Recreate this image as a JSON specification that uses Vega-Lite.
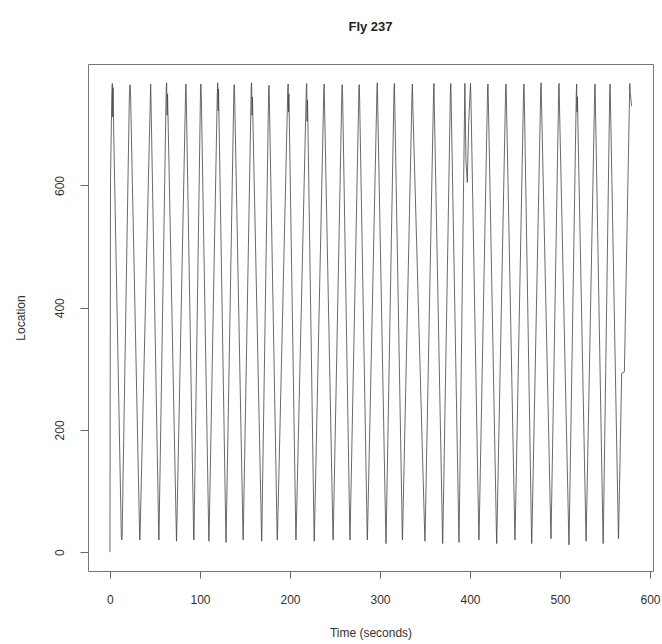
{
  "$schema": "https://vega.github.io/schema/vega-lite/v6.json",
  "width": 565,
  "height": 507,
  "autosize": {"type": "none"},
  "padding": {"left": 88, "top": 64, "right": 9, "bottom": 73},
  "background": "white",
  "title": {"text": "Fly 237", "fontSize": 13, "font": "Liberation Sans", "fontWeight": "bold", "color": "#222", "offset": 30, "anchor": "middle"},
  "config": {
    "view": {"stroke": "#777", "strokeWidth": 1},
    "axis": {"grid": false, "domain": false, "tickColor": "#666", "labelColor": "#333", "titleColor": "#333", "labelFont": "Liberation Sans", "titleFont": "Liberation Sans", "labelFontSize": 12, "titleFontSize": 12, "titleFontWeight": "normal"}
  },
  "data": {"values": [
    {"t": 0, "loc": 0}, {"t": 0.6, "loc": 610}, {"t": 2.0, "loc": 745}, {"t": 2.6, "loc": 767}, {"t": 3.1, "loc": 712}, {"t": 3.5, "loc": 760}, {"t": 4.0, "loc": 700},
    {"t": 12.6, "loc": 28}, {"t": 13, "loc": 20}, {"t": 13.5, "loc": 26},
    {"t": 21.6, "loc": 750}, {"t": 22.2, "loc": 765}, {"t": 22.8, "loc": 755},
    {"t": 33, "loc": 24}, {"t": 33.3, "loc": 20},
    {"t": 44.8, "loc": 740}, {"t": 45.2, "loc": 766}, {"t": 45.7, "loc": 730},
    {"t": 54.2, "loc": 26}, {"t": 54.4, "loc": 20},
    {"t": 62.5, "loc": 760}, {"t": 63, "loc": 768}, {"t": 63.5, "loc": 715}, {"t": 64, "loc": 750},
    {"t": 73.8, "loc": 24}, {"t": 74, "loc": 18},
    {"t": 84, "loc": 752}, {"t": 84.4, "loc": 766}, {"t": 84.9, "loc": 735},
    {"t": 93, "loc": 24}, {"t": 93.3, "loc": 20},
    {"t": 100.6, "loc": 755}, {"t": 101, "loc": 766}, {"t": 101.5, "loc": 745},
    {"t": 109.8, "loc": 22}, {"t": 110, "loc": 18},
    {"t": 119.2, "loc": 748}, {"t": 119.7, "loc": 768}, {"t": 120.2, "loc": 722}, {"t": 120.6, "loc": 758},
    {"t": 128.8, "loc": 22}, {"t": 129, "loc": 16},
    {"t": 137.6, "loc": 752}, {"t": 138, "loc": 765}, {"t": 138.5, "loc": 748},
    {"t": 147.8, "loc": 28}, {"t": 148, "loc": 20},
    {"t": 157, "loc": 765}, {"t": 157.4, "loc": 768}, {"t": 157.8, "loc": 715}, {"t": 158.3, "loc": 745},
    {"t": 168.4, "loc": 26}, {"t": 168.6, "loc": 18},
    {"t": 176.3, "loc": 756}, {"t": 176.7, "loc": 764}, {"t": 177.1, "loc": 740},
    {"t": 185.8, "loc": 22}, {"t": 186, "loc": 20},
    {"t": 197.6, "loc": 760}, {"t": 198, "loc": 766}, {"t": 198.4, "loc": 720}, {"t": 198.8, "loc": 750},
    {"t": 206.5, "loc": 24}, {"t": 206.7, "loc": 20},
    {"t": 218.2, "loc": 762}, {"t": 218.6, "loc": 767}, {"t": 219, "loc": 705}, {"t": 219.5, "loc": 740},
    {"t": 226.8, "loc": 24}, {"t": 227, "loc": 18},
    {"t": 237.6, "loc": 758}, {"t": 238, "loc": 766}, {"t": 238.4, "loc": 730},
    {"t": 247.8, "loc": 22}, {"t": 248, "loc": 20},
    {"t": 257.6, "loc": 752}, {"t": 258, "loc": 765}, {"t": 258.5, "loc": 745},
    {"t": 266.5, "loc": 26}, {"t": 266.7, "loc": 20},
    {"t": 276.6, "loc": 760}, {"t": 277, "loc": 765}, {"t": 277.4, "loc": 740},
    {"t": 285.8, "loc": 24}, {"t": 286, "loc": 20},
    {"t": 296.6, "loc": 755}, {"t": 297, "loc": 768}, {"t": 297.4, "loc": 738},
    {"t": 306.5, "loc": 22}, {"t": 306.7, "loc": 14},
    {"t": 315.6, "loc": 760}, {"t": 316, "loc": 767}, {"t": 316.4, "loc": 735},
    {"t": 324.8, "loc": 26}, {"t": 325, "loc": 20},
    {"t": 335.6, "loc": 752}, {"t": 336, "loc": 766}, {"t": 336.5, "loc": 730},
    {"t": 349.8, "loc": 22}, {"t": 350, "loc": 18},
    {"t": 359.6, "loc": 760}, {"t": 360, "loc": 767}, {"t": 360.4, "loc": 725},
    {"t": 369.5, "loc": 20}, {"t": 369.7, "loc": 14},
    {"t": 378.2, "loc": 752}, {"t": 378.6, "loc": 767}, {"t": 379, "loc": 745},
    {"t": 387.6, "loc": 24}, {"t": 387.8, "loc": 16},
    {"t": 394.3, "loc": 767}, {"t": 395.5, "loc": 640}, {"t": 397, "loc": 605}, {"t": 398.5, "loc": 700}, {"t": 400.5, "loc": 767}, {"t": 401, "loc": 745},
    {"t": 409.8, "loc": 22}, {"t": 410, "loc": 20},
    {"t": 419.6, "loc": 762}, {"t": 420, "loc": 766}, {"t": 420.4, "loc": 738},
    {"t": 429.5, "loc": 20}, {"t": 429.7, "loc": 14},
    {"t": 439.6, "loc": 758}, {"t": 440, "loc": 766}, {"t": 440.4, "loc": 745},
    {"t": 449.8, "loc": 26}, {"t": 450, "loc": 20},
    {"t": 459.6, "loc": 760}, {"t": 460, "loc": 766}, {"t": 460.4, "loc": 738},
    {"t": 468.4, "loc": 20}, {"t": 468.6, "loc": 14},
    {"t": 478.6, "loc": 758}, {"t": 479, "loc": 768}, {"t": 479.4, "loc": 740},
    {"t": 489.8, "loc": 30}, {"t": 490, "loc": 22},
    {"t": 498.6, "loc": 762}, {"t": 499, "loc": 767}, {"t": 499.4, "loc": 730},
    {"t": 509.8, "loc": 20}, {"t": 510, "loc": 12},
    {"t": 518.1, "loc": 752}, {"t": 518.5, "loc": 766}, {"t": 518.9, "loc": 720}, {"t": 519.3, "loc": 745},
    {"t": 528.8, "loc": 26}, {"t": 529, "loc": 18},
    {"t": 538.6, "loc": 760}, {"t": 539, "loc": 766}, {"t": 539.4, "loc": 728},
    {"t": 547.8, "loc": 20}, {"t": 548, "loc": 14},
    {"t": 555.2, "loc": 752}, {"t": 555.6, "loc": 766}, {"t": 556, "loc": 740},
    {"t": 564.8, "loc": 28}, {"t": 565, "loc": 22},
    {"t": 568.5, "loc": 293}, {"t": 571.5, "loc": 295},
    {"t": 577.5, "loc": 767}, {"t": 578, "loc": 752}, {"t": 579.5, "loc": 730}
  ]},
  "mark": {"type": "line", "color": "#444", "strokeWidth": 0.8},
  "encoding": {
    "x": {"field": "t", "type": "quantitative", "scale": {"domain": [-24.4, 603.3], "nice": false, "zero": false},
      "axis": {"values": [0, 100, 200, 300, 400, 500, 600], "tickSize": 7, "labelPadding": 16, "labelFlush": false, "title": "Time (seconds)", "titlePadding": 22}},
    "y": {"field": "loc", "type": "quantitative", "scale": {"domain": [-30.8, 798.8], "nice": false, "zero": false},
      "axis": {"values": [0, 200, 400, 600], "tickSize": 8, "labelAngle": 270, "labelPadding": 14, "labelFlush": false, "title": "Location", "titlePadding": 26}}
  }
}
